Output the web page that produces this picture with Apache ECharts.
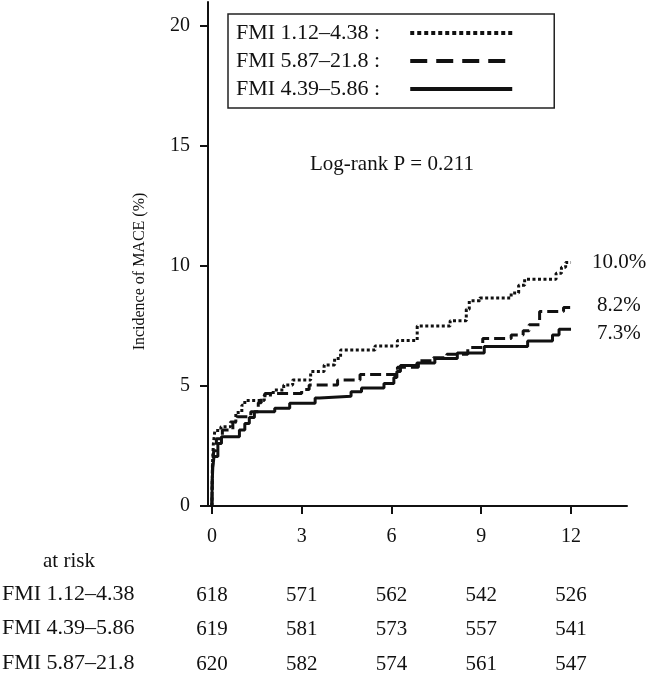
<!DOCTYPE html>
<html>
<head>
<meta charset="utf-8">
<script src="https://cdn.jsdelivr.net/npm/echarts@6/dist/echarts.min.js"></script>
<style>
html,body{margin:0;padding:0;background:#fff;}
#c{width:650px;height:676px;}
</style>
</head>
<body>
<div id="c"></div>
<script>
// ---- data ----
const months = [0, 3, 6, 9, 12];
const yTicks = [0, 5, 10, 15, 20];
const seriesNames = ['FMI 1.12–4.38', 'FMI 5.87–21.8', 'FMI 4.39–5.86'];
const endLabels = ['10.0%', '8.2%', '7.3%'];

// FMI 1.12–4.38 (dotted)
const dottedTimes  = [0, 0.02, 0.05, 0.1, 0.3, 0.62, 0.8, 1.0, 1.1, 1.75, 2.05, 2.4, 2.7, 3.3, 3.75, 4.1, 4.3, 5.45, 6.2, 6.86, 7.96, 8.5, 8.6, 8.95, 10.0, 10.25, 10.45, 11.5, 11.68, 11.82, 12.0];
const dottedValues = [0, 1.8, 2.6, 3.15, 3.3, 3.5, 3.9, 4.2, 4.4, 4.62, 4.83, 5.04, 5.25, 5.6, 5.88, 6.15, 6.5, 6.67, 6.9, 7.5, 7.72, 8.2, 8.55, 8.67, 8.88, 9.2, 9.45, 9.7, 9.95, 10.15, 10.15];

// FMI 5.87–21.8 (dashed)
const dashedTimes  = [0, 0.02, 0.06, 0.15, 0.35, 0.7, 0.85, 1.3, 1.55, 1.65, 1.77, 3.0, 3.25, 4.2, 4.95, 6.2, 6.9, 7.4, 7.85, 8.55, 9.05, 10.0, 10.4, 10.6, 10.95, 11.75, 12.0];
const dashedValues = [0, 1.6, 2.3, 2.8, 3.17, 3.5, 3.72, 3.93, 4.3, 4.5, 4.69, 4.85, 5.04, 5.25, 5.48, 5.78, 6.05, 6.18, 6.32, 6.6, 6.98, 7.12, 7.3, 7.55, 8.1, 8.27, 8.27];

// FMI 4.39–5.86 (solid)
const solidTimes  = [0, 0.01, 0.03, 0.07, 0.2, 0.32, 0.92, 1.1, 1.25, 1.42, 2.1, 2.6, 3.45, 3.6, 4.65, 5.0, 5.75, 6.08, 6.18, 6.3, 6.85, 7.45, 8.2, 9.1, 10.55, 11.38, 11.6, 12.0];
const solidValues = [0, 1.0, 1.6, 2.06, 2.6, 2.89, 3.17, 3.44, 3.69, 3.93, 4.07, 4.28, 4.5, 4.57, 4.76, 4.92, 5.1, 5.35, 5.6, 5.85, 5.96, 6.15, 6.38, 6.65, 6.88, 7.12, 7.36, 7.36];

// number at risk
const riskRowNames = ['FMI 1.12–4.38', 'FMI 4.39–5.86', 'FMI 5.87–21.8'];
const riskRow1 = [618, 571, 562, 542, 526];
const riskRow2 = [619, 581, 573, 557, 541];
const riskRow3 = [620, 582, 574, 561, 547];

// ---- chart ----
const FONT = "'Liberation Serif', 'Times New Roman', serif";
const INK = '#111';
const pair = (ts, vs) => ts.map((t, i) => [t, vs[i]]);
const seriesData = [pair(dottedTimes, dottedValues), pair(dashedTimes, dashedValues), pair(solidTimes, solidValues)];
const lineTypes = [[3, 2.5], [11, 5], 'solid'];
const legendTypes = [[4, 3], [17, 9], 'solid'];
const endDist = [21, 26, 26];
const endOff = [[0, 0], [0, -2], [0, 4]];
const riskRows = [riskRow1, riskRow2, riskRow3];
const riskCenters = [595, 629, 664];
const AXIS_Y = 506;

const chart = echarts.init(document.getElementById('c'), null, {renderer: 'canvas'});

const riskAxes = riskRows.map((row, r) => ({
  type: 'value', gridIndex: 0, position: 'bottom', offset: riskCenters[r] - AXIS_Y,
  min: -0.13, max: 13.87,
  axisLine: {show: false}, axisTick: {show: false}, splitLine: {show: false},
  axisLabel: {
    customValues: months, margin: 0, verticalAlign: 'middle',
    fontFamily: FONT, fontSize: 21, color: INK,
    formatter: (v) => { const i = months.indexOf(Math.round(v)); return i >= 0 ? String(row[i]) : ''; }
  }
}));

chart.setOption({
  animation: false,
  backgroundColor: '#fff',
  grid: {left: 208, right: 23, top: 2, bottom: 170, containLabel: false},
  legend: {
    orient: 'vertical', left: 228, top: 14, align: 'right',
    padding: [8, 40, 8, 8], itemGap: 6, itemWidth: 102, itemHeight: 14,
    borderColor: '#222', borderWidth: 1.5, backgroundColor: '#fff',
    formatter: '{name} :',
    textStyle: {fontFamily: FONT, fontSize: 22, color: INK, lineHeight: 21, padding: [0, 25, 0, 0]},
    itemStyle: {color: 'rgba(0,0,0,0)', borderWidth: 0, opacity: 0},
    data: seriesNames.map((n, i) => ({
      name: n,
      itemStyle: {color: 'rgba(0,0,0,0)', borderWidth: 0, opacity: 0},
      lineStyle: {type: legendTypes[i], width: 4, color: INK, cap: 'butt', opacity: 1}
    })),
    selectedMode: false
  },
  xAxis: [{
    type: 'value', gridIndex: 0, min: -0.13, max: 13.87,
    axisLine: {show: true, onZero: false, lineStyle: {color: INK, width: 2}},
    axisTick: {show: true, customValues: months, length: 8, lineStyle: {color: INK, width: 2}},
    splitLine: {show: false},
    axisLabel: {customValues: months, margin: 21, fontFamily: FONT, fontSize: 20, color: INK}
  }].concat(riskAxes),
  yAxis: {
    type: 'value', min: 0, max: 21,
    name: 'Incidence of MACE (%)', nameLocation: 'middle', nameGap: 60,
    nameTextStyle: {fontFamily: FONT, fontSize: 16, color: INK, padding: [0, 35, 0, 0]},
    axisLine: {show: true, onZero: false, lineStyle: {color: INK, width: 2}},
    axisTick: {show: true, customValues: yTicks, length: 8, lineStyle: {color: INK, width: 2}},
    splitLine: {show: false},
    axisLabel: {customValues: yTicks, margin: 18, fontFamily: FONT, fontSize: 20, color: INK}
  },
  series: seriesNames.map((n, i) => ({
    name: n, type: 'line', step: 'end', data: seriesData[i],
    symbol: 'none', showSymbol: false,
    lineStyle: {color: INK, width: 3, type: lineTypes[i], cap: 'butt'},
    itemStyle: {color: INK},
    endLabel: {show: true, formatter: endLabels[i], distance: endDist[i], offset: endOff[i],
      fontFamily: FONT, fontSize: 21, color: INK}
  })),
  graphic: [
    {type: 'text', left: 310, top: 165 - 11, style: {text: 'Log-rank P = 0.211', font: '21px ' + FONT, fill: INK}},
    {type: 'text', left: 43, top: 562 - 11, style: {text: 'at risk', font: '21px ' + FONT, fill: INK}}
  ].concat(riskRowNames.map((n, r) => ({
    type: 'text', left: 2, top: riskCenters[r] - 12, style: {text: n, font: '22px ' + FONT, fill: INK}
  })))
});
</script>
</body>
</html>
